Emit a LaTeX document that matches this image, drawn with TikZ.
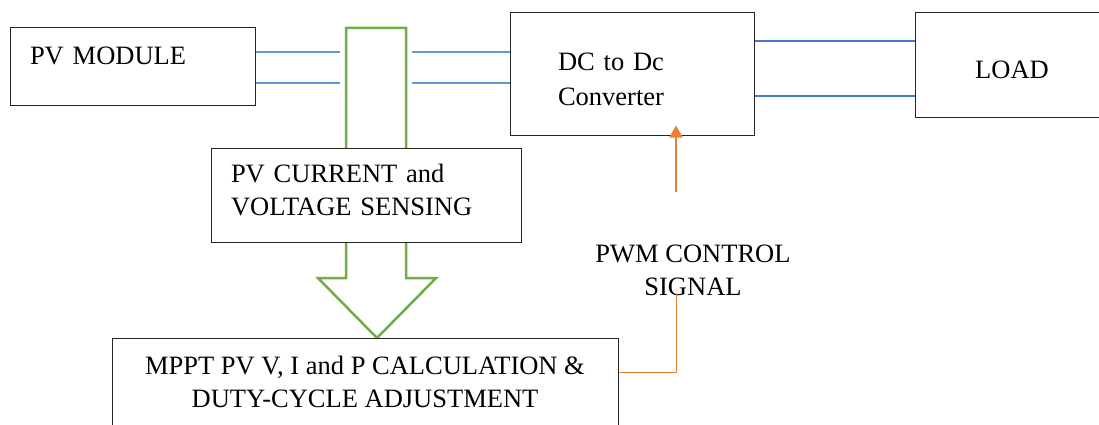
\documentclass[tikz,border=0pt]{standalone}
\usepackage{fontspec}
\setmainfont{Liberation Serif}
\usetikzlibrary{calc, arrows.meta, backgrounds}

\definecolor{wireblue}{RGB}{91,155,213}
\definecolor{wiredark}{RGB}{68,120,200}
\definecolor{arrowgreen}{RGB}{112,173,71}
\definecolor{sigorange}{RGB}{237,125,49}

\begin{document}
\begin{tikzpicture}[x=1pt, y=-1pt,
    box/.style={draw=black!85, line width=1pt, fill=white, inner sep=4pt, font=\fontsize{26.5}{33}\selectfont},
    wire/.style={line width=1.4pt, wireblue},
    sig/.style={line width=1pt, sigorange}]

    \useasboundingbox (0,0) rectangle (1099,425);

    % --- 1. Blocks ---
    \node[box, minimum width=245pt, minimum height=78pt, text width=205pt, align=left, text depth=22pt] (pv) at (132.5,67) {PV MODULE};
    \node[box, minimum width=244pt, minimum height=122pt, text width=148pt, align=left, font=\fontsize{26.5}{35}\selectfont, text height=28.5pt] (dc) at (632,74) {DC to Dc\\Converter};
    \node[box, minimum width=194pt, minimum height=105pt, text height=26.5pt] (load) at (1012,65.5) {LOAD};
    \node[box, minimum width=310pt, minimum height=94pt, text width=270pt, align=left, text depth=43pt] (sense) at (366,195) {PV CURRENT and\\VOLTAGE SENSING};
    \node[box, minimum width=506pt, minimum height=94pt, align=center, text depth=6pt] (mppt) at (365,385) {MPPT PV V, I and P CALCULATION \&\\DUTY-CYCLE ADJUSTMENT};
    \node[font=\fontsize{26.5}{33}\selectfont, align=center] (pwm) at (693,270) {PWM CONTROL\\SIGNAL};

    % --- 2. Power wires and the sensing arrow (behind the blocks) ---
    \begin{scope}[on background layer]
        \draw[wire] ([yshift=15pt]pv.east) -- ([yshift=15pt]pv.east -| dc.west);
        \draw[wire] ([yshift=-16pt]pv.east) -- ([yshift=-16pt]pv.east -| dc.west);
        \draw[wire, wiredark] ([yshift=33pt]dc.east) -- ([yshift=33pt]dc.east -| load.west);
        \draw[wire, wiredark] ([yshift=-22pt]dc.east) -- ([yshift=-22pt]dc.east -| load.west);

        % block arrow from the PV side down to the MPPT block
        \draw[arrowgreen, line width=2.5pt, fill=white, line join=miter,
              preaction={draw=white, line width=12pt, line join=round}]
            (346,28) -- (406,28) -- (406,278) -- (436,278) -- (377,338)
            -- (318,278) -- (346,278) -- cycle;
    \end{scope}

    % --- 3. PWM control signal ---
    \coordinate (pwmbase) at (676,192);
    \coordinate (pwmbend) at (676,372);
    \coordinate (pwmtop) at (676,293);
    \draw[sig, line width=2pt, -{Triangle[length=12pt, width=13pt]}] (pwmbase) -- ([yshift=10pt]dc.south -| pwmbase);
    \draw[sig] (mppt.east |- pwmbend) -- (pwmbend) -- (pwmtop);

\end{tikzpicture}
\end{document}
